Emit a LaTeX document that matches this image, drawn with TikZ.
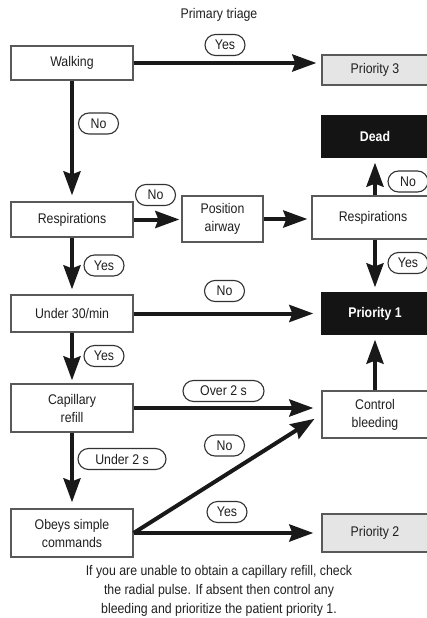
\documentclass[tikz,border=0pt]{standalone}
\usepackage{fontspec}
\setmainfont{Liberation Sans}[FakeStretch=0.88]
\usetikzlibrary{arrows.meta}
\begin{document}
\begin{tikzpicture}[x=1pt,y=-1pt,
  every node/.style={font=\fontsize{14}{18}\selectfont, text=black!88},
  box/.style={draw=black!65, line width=1.3pt, fill=white, minimum width=122pt, inner sep=0pt, align=center},
  rbox/.style={box, minimum width=106pt},
  greybox/.style={rbox, fill=black!10},
  blackbox/.style={rbox, fill=black!92, draw=black!92, text=white, font=\fontsize{14}{18}\selectfont\bfseries},
  lbl/.style={draw=black!80, line width=1.1pt, fill=white, rounded corners=10.5pt, minimum height=21pt, minimum width=40pt, inner sep=0pt},
  arr/.style={line width=4pt, draw=black!90, -{Stealth[length=24pt,width=17pt,inset=3pt]}},
  txt/.style={inner sep=0pt, align=center}
]
\useasboundingbox (0,0) rectangle (426,618);

% title
\node[txt] (title) at (219,15) {Primary triage};

% left column
\node[box, minimum height=34pt] (walk) at (72,63) {Walking};
\node[box, minimum height=35pt] (resp) at (72,219.5) {Respirations};
\node[box, minimum height=37pt] (under) at (72,313.5) {Under 30/min};
\node[box, minimum height=48pt] (cap) at (72,408) {Capillary\\refill};
\node[box, minimum height=48pt] (obeys) at (72,533) {Obeys simple\\commands};

% middle
\node[box, minimum width=81pt, minimum height=46pt] (pos) at (222.5,219) {Position\\airway};

% right column
\node[box, minimum height=43pt] (resp2) at (373,217.5) {Respirations};
\node[greybox, minimum height=30pt] (p3) at (375,70) {Priority 3};
\node[blackbox, minimum height=41pt] (dead) at (375,136.5) {Dead};
\node[blackbox, minimum height=41pt] (p1) at (375,313.5) {Priority 1};
\node[rbox, minimum height=47pt] (ctrl) at (375,414.5) {Control\\bleeding};
\node[greybox, minimum height=38pt] (p2) at (375,533) {Priority 2};

% connectors
\draw[arr, shorten >=5pt] (walk.east) -- (walk.east -| p3.west);
\draw[arr, shorten >=6pt] (walk.south) -- (resp.north);
\draw[arr, shorten >=2pt] (resp.east) -- (resp.east -| pos.west);
\draw[arr, shorten >=4pt] (pos.east) -- (pos.east -| resp2.west);
\draw[arr, shorten >=5pt] ([xshift=2pt]resp2.north) -- ([xshift=2pt]resp2.north |- dead.south);
\draw[arr, shorten >=5pt] ([xshift=2pt]resp2.south) -- ([xshift=2pt]resp2.south |- p1.north);
\draw[arr, shorten >=5pt] (resp.south) -- (under.north);
\draw[arr, shorten >=8pt] (under.east) -- (p1.west);
\draw[arr, shorten >=3pt] (under.south) -- (cap.north);
\draw[arr, shorten >=8pt] (cap.east) -- (cap.east -| ctrl.west);
\draw[arr, shorten >=6pt] (cap.south) -- (obeys.north);
\draw[arr, shorten >=5pt] (ctrl.north) -- (p1.south);
\draw[arr, shorten >=8pt] (obeys.east) -- (ctrl.west);
\draw[arr, shorten >=8pt] (obeys.east) -- (p2.west);

% labels
\node[lbl] (l1) at (225,45) {Yes};
\node[lbl] (l2) at (98.5,123.5) {No};
\node[lbl] (l3) at (155.5,195) {No};
\node[lbl] (l4) at (104,265.5) {Yes};
\node[lbl] (l5) at (224.5,291) {No};
\node[lbl] (l6) at (408,181.5) {No};
\node[lbl] (l7) at (408,263) {Yes};
\node[lbl] (l8) at (104,356) {Yes};
\node[lbl, minimum width=81pt] (l9) at (223.5,391) {Over 2 s};
\node[lbl, minimum width=88pt] (l10) at (122,459) {Under 2 s};
\node[lbl] (l11) at (224.5,445.5) {No};
\node[lbl] (l12) at (227,512) {Yes};

% caption
\node[txt] (cap1) at (219,572) {If you are unable to obtain a capillary refill, check};
\node[txt] (cap2) at (219,591) {the radial pulse. If absent then control any};
\node[txt] (cap3) at (219,609.5) {bleeding and prioritize the patient priority 1.};
\end{tikzpicture}
\end{document}
